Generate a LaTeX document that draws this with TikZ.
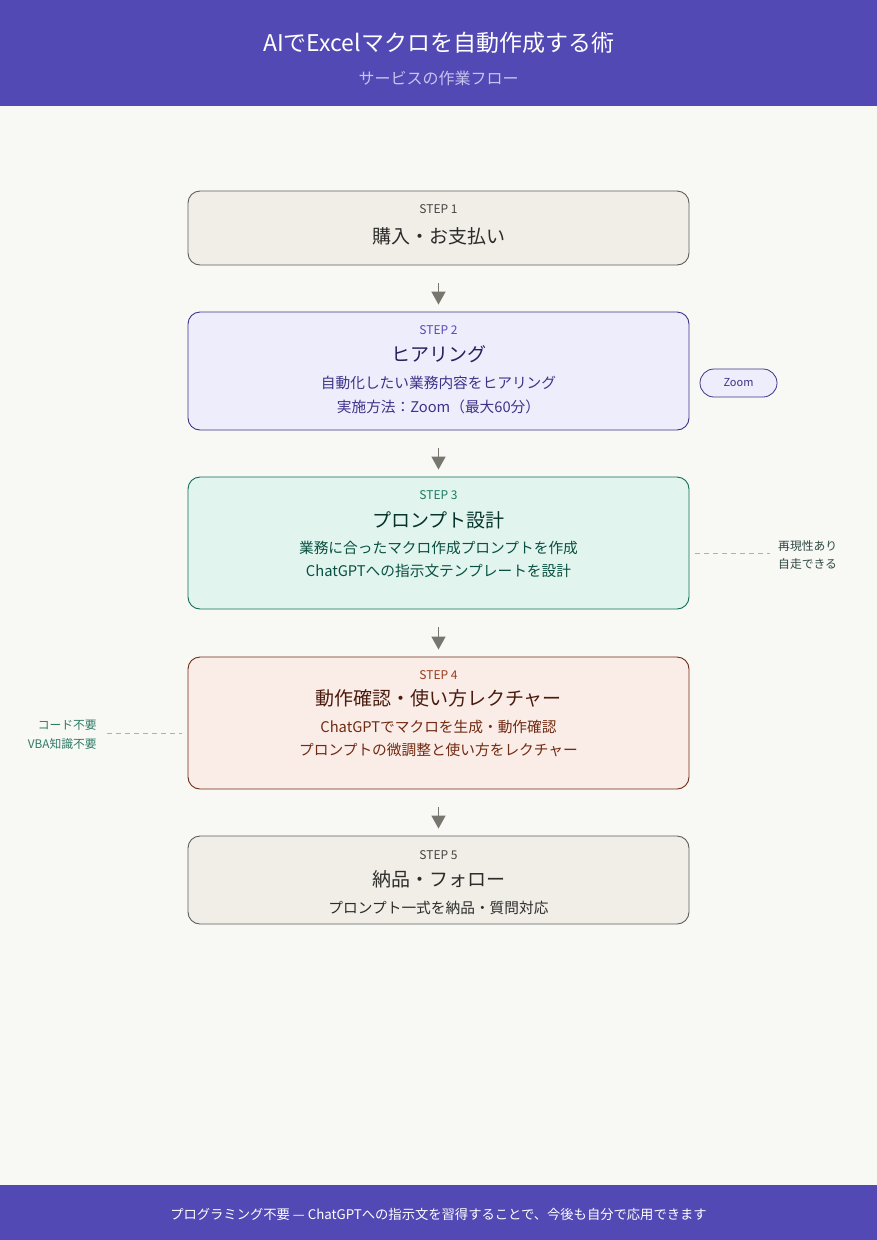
\documentclass[tikz,border=0pt]{standalone}
\usepackage{fontspec}
\setmainfont{Noto Sans CJK JP}
\usetikzlibrary{arrows.meta}
\definecolor{hdr}{HTML}{5249B4}
\definecolor{subt}{HTML}{C8C3F0}
\definecolor{bg}{HTML}{F8F8F5}
\definecolor{nfill}{HTML}{F1EEE8}
\definecolor{ndraw}{HTML}{5F5E5A}
\definecolor{ntext}{HTML}{2C2C2A}
\definecolor{nstep}{HTML}{444441}
\definecolor{pfill}{HTML}{EEEDFC}
\definecolor{pdraw}{HTML}{3C3489}
\definecolor{pstep}{HTML}{534AB7}
\definecolor{ptitle}{HTML}{26215C}
\definecolor{ptext}{HTML}{3C3489}
\definecolor{gfill}{HTML}{E1F5EE}
\definecolor{gdraw}{HTML}{0F6E56}
\definecolor{gstep}{HTML}{1D7A5F}
\definecolor{gtitle}{HTML}{04342C}
\definecolor{gtext}{HTML}{085041}
\definecolor{rfill}{HTML}{FAECE7}
\definecolor{rdraw}{HTML}{712B13}
\definecolor{rstep}{HTML}{993C1D}
\definecolor{rtitle}{HTML}{4A1B0C}
\definecolor{rtext}{HTML}{712B13}
\definecolor{arrc}{HTML}{77776F}
\definecolor{dashc}{HTML}{8FBFB0}
\definecolor{notec}{HTML}{2F7A66}
\definecolor{notedk}{HTML}{2F4A42}
\begin{document}
\begin{tikzpicture}[x=1pt,y=-1pt,
  stepbox/.style={rounded corners=12pt, minimum width=501pt, line width=0.9pt, inner sep=0pt},
  steplbl/.style={font=\fontsize{12}{14}\selectfont, inner sep=0pt},
  steptitle/.style={font=\fontsize{19}{23}\selectfont, inner sep=0pt},
  stepbody/.style={font=\fontsize{14.7}{17}\selectfont, inner sep=0pt},
  notetxt/.style={font=\fontsize{11.8}{14}\selectfont, inner sep=0pt},
  flow/.style={draw=arrc, line width=1.6pt, -{Triangle[width=14pt,length=13pt]}, shorten <=18pt, shorten >=7pt},
  dashline/.style={draw=dashc, line width=0.8pt, dash pattern=on 5pt off 4pt}
]
\useasboundingbox (0,0) rectangle (877,1240);
\fill[bg] (0,0) rectangle (877,1240);
% header
\fill[hdr] (0,0) rectangle (877,106);
\node[text=white, font=\fontsize{23}{27}\selectfont, inner sep=0pt] (title) at (438.5,43) {AIでExcelマクロを自動作成する術};
\node[text=subt, font=\fontsize{16}{19}\selectfont, inner sep=0pt] (subtitle) at (438.5,78) {サービスの作業フロー};
% footer
\fill[hdr] (0,1185) rectangle (877,1240);
\node[text=white, font=\fontsize{13.3}{16}\selectfont, inner sep=0pt] (footer) at (438.5,1214) {プログラミング不要 — ChatGPTへの指示文を習得することで、今後も自分で応用できます};
% boxes
\node[stepbox, draw=ndraw, fill=nfill, minimum height=74pt] (b1) at (438.5,228) {};
\node[stepbox, draw=pdraw, fill=pfill, minimum height=118pt] (b2) at (438.5,371) {};
\node[stepbox, draw=gdraw, fill=gfill, minimum height=132pt] (b3) at (438.5,543) {};
\node[stepbox, draw=rdraw, fill=rfill, minimum height=132pt] (b4) at (438.5,723) {};
\node[stepbox, draw=ndraw, fill=nfill, minimum height=88pt] (b5) at (438.5,880) {};
% step 1
\node[steplbl, text=nstep] (s1) at (438.5,209) {STEP 1};
\node[steptitle, text=ntext] (t1) at (438.5,236) {購入・お支払い};
% step 2
\node[steplbl, text=pstep] (s2) at (438.5,330) {STEP 2};
\node[steptitle, text=ptitle] (t2) at (438.5,354) {ヒアリング};
\node[stepbody, text=ptext] (l2a) at (438.5,383) {自動化したい業務内容をヒアリング};
\node[stepbody, text=ptext] (l2b) at (438.5,407) {実施方法：Zoom（最大60分）};
\node[draw=pdraw, fill=pfill, line width=0.8pt, rounded corners=14pt, minimum width=77pt, minimum height=28pt, inner sep=0pt, text=pdraw, font=\fontsize{11}{13}\selectfont] (zoom) at (738.5,383) {Zoom};
% step 3
\node[steplbl, text=gstep] (s3) at (438.5,495) {STEP 3};
\node[steptitle, text=gtitle] (t3) at (438.5,520) {プロンプト設計};
\node[stepbody, text=gtext] (l3a) at (438.5,548) {業務に合ったマクロ作成プロンプトを作成};
\node[stepbody, text=gtext] (l3b) at (438.5,571) {ChatGPTへの指示文テンプレートを設計};
\node[notetxt, text=notedk, anchor=west] (n3a) at (778,546) {再現性あり};
\node[notetxt, text=notedk, anchor=west] (n3b) at (778,564) {自走できる};
\coordinate (d3) at (770,553);
\draw[dashline] ([xshift=6pt]b3.east |- d3) -- (d3);
% step 4
\node[steplbl, text=rstep] (s4) at (438.5,675) {STEP 4};
\node[steptitle, text=rtitle] (t4) at (438.5,698) {動作確認・使い方レクチャー};
\node[stepbody, text=rtext] (l4a) at (438.5,727) {ChatGPTでマクロを生成・動作確認};
\node[stepbody, text=rtext] (l4b) at (438.5,750) {プロンプトの微調整と使い方をレクチャー};
\node[notetxt, text=notec, anchor=east] (n4a) at (97,725) {コード不要};
\node[notetxt, text=notec, anchor=east] (n4b) at (97,744) {VBA知識不要};
\coordinate (d4) at (107,733);
\draw[dashline] (d4) -- ([xshift=-6pt]b4.west |- d4);
% step 5
\node[steplbl, text=nstep] (s5) at (438.5,855) {STEP 5};
\node[steptitle, text=ntext] (t5) at (438.5,879) {納品・フォロー};
\node[stepbody, text=ntext] (l5a) at (438.5,908) {プロンプト一式を納品・質問対応};
% arrows
\draw[flow] (b1) -- (b2);
\draw[flow] (b2) -- (b3);
\draw[flow] (b3) -- (b4);
\draw[flow] (b4) -- (b5);
\end{tikzpicture}
\end{document}
